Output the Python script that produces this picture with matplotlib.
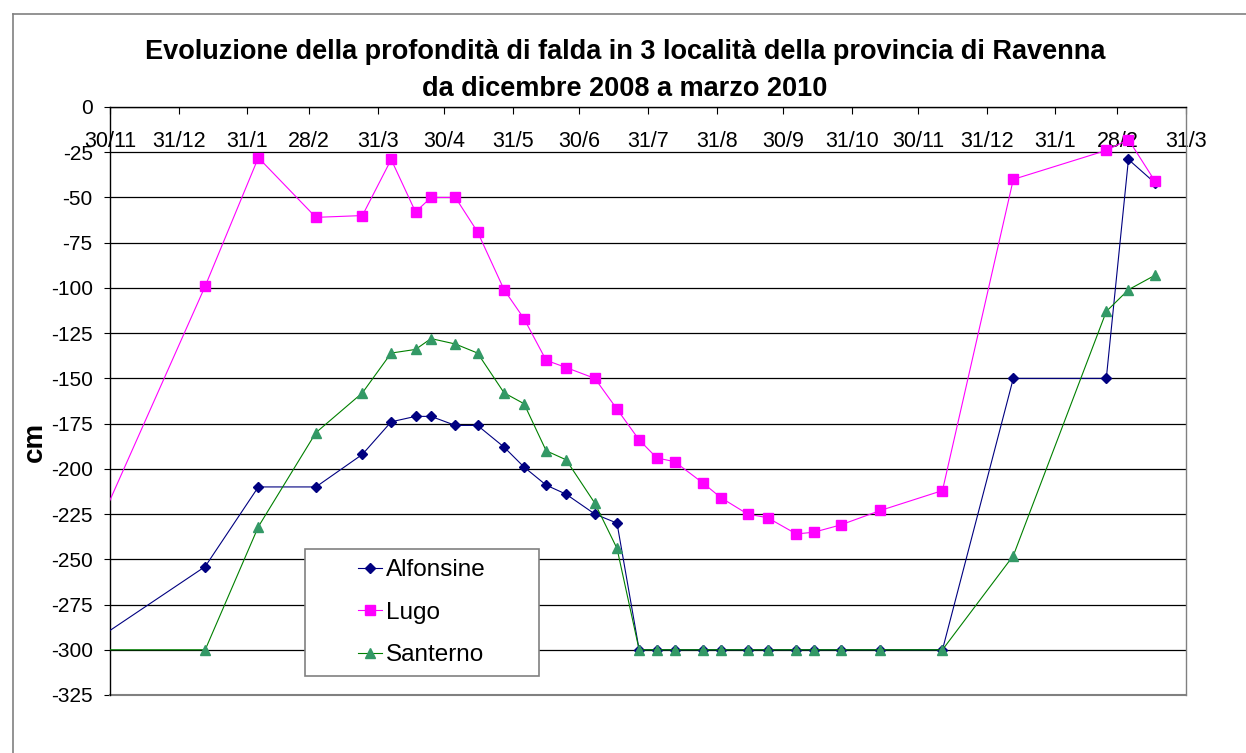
import numpy as np
import matplotlib
matplotlib.use('Agg')
import matplotlib.pyplot as plt
from matplotlib.patches import Rectangle
from matplotlib.lines import Line2D

plt.rcParams['font.family'] = ['Liberation Sans', 'DejaVu Sans']
plt.rcParams['axes.unicode_minus'] = False

### data
dates = ['2008-11-17',
         '2009-01-12', '2009-02-05', '2009-03-03', '2009-03-24', '2009-04-06',
         '2009-04-17', '2009-04-24', '2009-05-05', '2009-05-15', '2009-05-27',
         '2009-06-05', '2009-06-15', '2009-06-24', '2009-07-07', '2009-07-17',
         '2009-07-27', '2009-08-04', '2009-08-12', '2009-08-25', '2009-09-02',
         '2009-09-14', '2009-09-23', '2009-10-06', '2009-10-14', '2009-10-26',
         '2009-11-13', '2009-12-11', '2010-01-12', '2010-02-23', '2010-03-05',
         '2010-03-17']

alfonsine = [-300,
             -254, -210, -210, -192, -174,
             -171, -171, -176, -176, -188,
             -199, -209, -214, -225, -230,
             -300, -300, -300, -300, -300,
             -300, -300, -300, -300, -300,
             -300, -300, -150, -150, -29,
             -42]

lugo = [-253,
        -99, -28, -61, -60, -29,
        -58, -50, -50, -69, -101,
        -117, -140, -144, -150, -167,
        -184, -194, -196, -208, -216,
        -225, -227, -236, -235, -231,
        -223, -212, -40, -24, -18,
        -41]

santerno = [-300,
            -300, -232, -180, -158, -136,
            -134, -128, -131, -136, -158,
            -164, -190, -195, -219, -244,
            -300, -300, -300, -300, -300,
            -300, -300, -300, -300, -300,
            -300, -300, -248, -113, -101,
            -93]

tick_dates = ['2008-11-30', '2008-12-31', '2009-01-31', '2009-02-28', '2009-03-31',
              '2009-04-30', '2009-05-31', '2009-06-30', '2009-07-31', '2009-08-31',
              '2009-09-30', '2009-10-31', '2009-11-30', '2009-12-31', '2010-01-31',
              '2010-02-28', '2010-03-31']
tick_labels = ['30/11', '31/12', '31/1', '28/2', '31/3', '30/4', '31/5', '30/6',
               '31/7', '31/8', '30/9', '31/10', '30/11', '31/12', '31/1', '28/2', '31/3']

t = np.array(dates, dtype='datetime64[D]')
ticks = np.array(tick_dates, dtype='datetime64[D]')

### figure
fig = plt.figure(figsize=(12.46, 7.53), dpi=100)
ax = fig.add_axes([110/1246, 1-695/753, 1076/1246, 588/753])

ax.plot(t, alfonsine, color='#000080', lw=0.8, marker='D', ms=5,
        mfc='#000080', mec='#000080', label='Alfonsine', zorder=3)
ax.plot(t, lugo, color='#FF00FF', lw=0.8, marker='s', ms=7,
        mfc='#FF00FF', mec='#FF00FF', label='Lugo', zorder=3)
ax.plot(t, santerno, color='#008000', lw=0.8, marker='^', ms=7,
        mfc='#339966', mec='#339966', label='Santerno', zorder=3)

ax.set_xlim(ticks[0], ticks[-1])
ax.set_ylim(-325, 0)
ax.set_yticks(np.arange(-325, 1, 25))
ax.set_xticks(ticks)
ax.set_xticklabels(tick_labels)

# x axis sits at y=0 like in Excel
ax.spines['bottom'].set_position(('data', 0))
ax.spines['bottom'].set_color('black')
ax.spines['top'].set_visible(False)
ax.spines['left'].set_color('black')
ax.spines['right'].set_color('#808080')
for s in ax.spines.values():
    s.set_linewidth(1.0)
ax.axhline(-325, color='#808080', lw=1.5, zorder=2.5, clip_on=False)

ax.tick_params(axis='x', direction='out', length=5, width=0.8, pad=12, labelsize=15.5)
ax.tick_params(axis='y', direction='out', length=4.5, width=0.8, pad=8, labelsize=15)

ax.yaxis.grid(True, color='black', lw=0.9)
ax.set_axisbelow(True)

# legend box
ax.add_patch(Rectangle((0.181, 0.032), 0.218, 0.216, transform=ax.transAxes,
                       facecolor='white', edgecolor='#808080', lw=1.2, zorder=4))
ax.legend(loc='center', bbox_to_anchor=(0.181, 0.032, 0.218, 0.216),
          frameon=False, fontsize=17.5, handlelength=1.0, handletextpad=0.15,
          labelspacing=0.85, borderpad=0.2)

# titles
fig.text(625/1246, 1-52/753, 'Evoluzione della profondità di falda in 3 località della provincia di Ravenna',
         ha='center', va='center', fontsize=19.5, fontweight='bold')
fig.text(625/1246, 1-89/753, 'da dicembre 2008 a marzo 2010',
         ha='center', va='center', fontsize=19.5, fontweight='bold')
fig.text(35/1246, 1-442/753, 'cm', rotation=90, ha='center', va='center',
         fontsize=20, fontweight='bold')

# outer chart border
fig.add_artist(Line2D([12.7/1246, 1], [1-14/753, 1-14/753], color='#808080', lw=1.2))
fig.add_artist(Line2D([12.7/1246, 12.7/1246], [0, 1-14/753], color='#808080', lw=1.2))

fig.savefig('out.png', dpi=100)
